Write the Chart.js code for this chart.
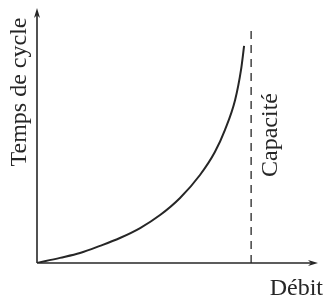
<!DOCTYPE html>
<html>
<head>
<meta charset="utf-8">
<script src="https://cdn.jsdelivr.net/npm/chart.js@4/dist/chart.umd.min.js"></script>
<style>
  html, body { margin: 0; padding: 0; background: #fff; }
  #c { display: block; }
</style>
</head>
<body>
<canvas id="c" width="325" height="298"></canvas>
<script>
// courbe temps de cycle en fonction du débit
const debit = [0, 8.2, 15.3, 22.4, 29.5, 36.7, 43.8, 50.9, 58.0, 63.3, 66.9, 70.5, 72.6, 73.7];
const tempsCycle = [0, 2.0, 3.9, 6.7, 9.8, 13.7, 18.8, 25.5, 34.5, 43.5, 52.2, 63.9, 75.7, 85.1];

// ligne de capacité
const capacite = 76.2;
const capaciteHaut = 93;

// textes
const titreY = "Temps de cycle";
const titreX = "Débit";
const titreCapacite = "Capacité";

const encre = "#262626";
const police = "24px 'Liberation Serif', 'Times New Roman', Times, serif";

// dessine les axes avec flèches et les textes
const axesPlugin = {
  id: "axes",
  afterDatasetsDraw(chart) {
    const ctx = chart.ctx;
    const a = chart.chartArea;
    const xs = chart.scales.x;
    ctx.save();
    ctx.strokeStyle = encre;
    ctx.fillStyle = encre;
    ctx.lineWidth = 1.6;

    // axe x
    ctx.beginPath();
    ctx.moveTo(a.left, a.bottom);
    ctx.lineTo(a.right - 4, a.bottom);
    ctx.stroke();
    ctx.beginPath();
    ctx.moveTo(a.right, a.bottom);
    ctx.lineTo(a.right - 10, a.bottom - 3);
    ctx.lineTo(a.right - 7, a.bottom);
    ctx.lineTo(a.right - 10, a.bottom + 3);
    ctx.closePath();
    ctx.fill();

    // axe y
    ctx.beginPath();
    ctx.moveTo(a.left, a.bottom);
    ctx.lineTo(a.left, a.top + 4);
    ctx.stroke();
    ctx.beginPath();
    ctx.moveTo(a.left, a.top);
    ctx.lineTo(a.left - 3, a.top + 10);
    ctx.lineTo(a.left, a.top + 7);
    ctx.lineTo(a.left + 3, a.top + 10);
    ctx.closePath();
    ctx.fill();

    // textes
    ctx.font = police;
    ctx.textBaseline = "alphabetic";

    ctx.save();
    ctx.translate(a.left - 11, 92);
    ctx.rotate(-Math.PI / 2);
    ctx.textAlign = "center";
    ctx.fillText(titreY, 0, 0);
    ctx.restore();

    ctx.save();
    ctx.translate(xs.getPixelForValue(capacite) + 26, 135);
    ctx.rotate(-Math.PI / 2);
    ctx.textAlign = "center";
    ctx.fillText(titreCapacite, 0, 0);
    ctx.restore();

    ctx.textAlign = "right";
    ctx.fillText(titreX, 323, a.bottom + 32);
    ctx.restore();
  }
};

new Chart(document.getElementById("c"), {
  type: "scatter",
  data: {
    datasets: [
      {
        data: debit.map((x, i) => ({ x: x, y: tempsCycle[i] })),
        showLine: true,
        borderColor: encre,
        borderWidth: 2,
        pointRadius: 0,
        cubicInterpolationMode: "monotone"
      },
      {
        data: [{ x: capacite, y: 0 }, { x: capacite, y: capaciteHaut }],
        showLine: true,
        borderColor: encre,
        borderWidth: 1.3,
        borderDash: [8, 6],
        pointRadius: 0
      }
    ]
  },
  options: {
    responsive: false,
    animation: false,
    layout: { padding: { left: 37, top: 8, right: 7, bottom: 35 } },
    plugins: { legend: { display: false }, tooltip: { enabled: false } },
    scales: {
      x: { type: "linear", min: 0, max: 100, display: false },
      y: { type: "linear", min: 0, max: 100, display: false }
    }
  },
  plugins: [axesPlugin]
});
</script>
</body>
</html>
